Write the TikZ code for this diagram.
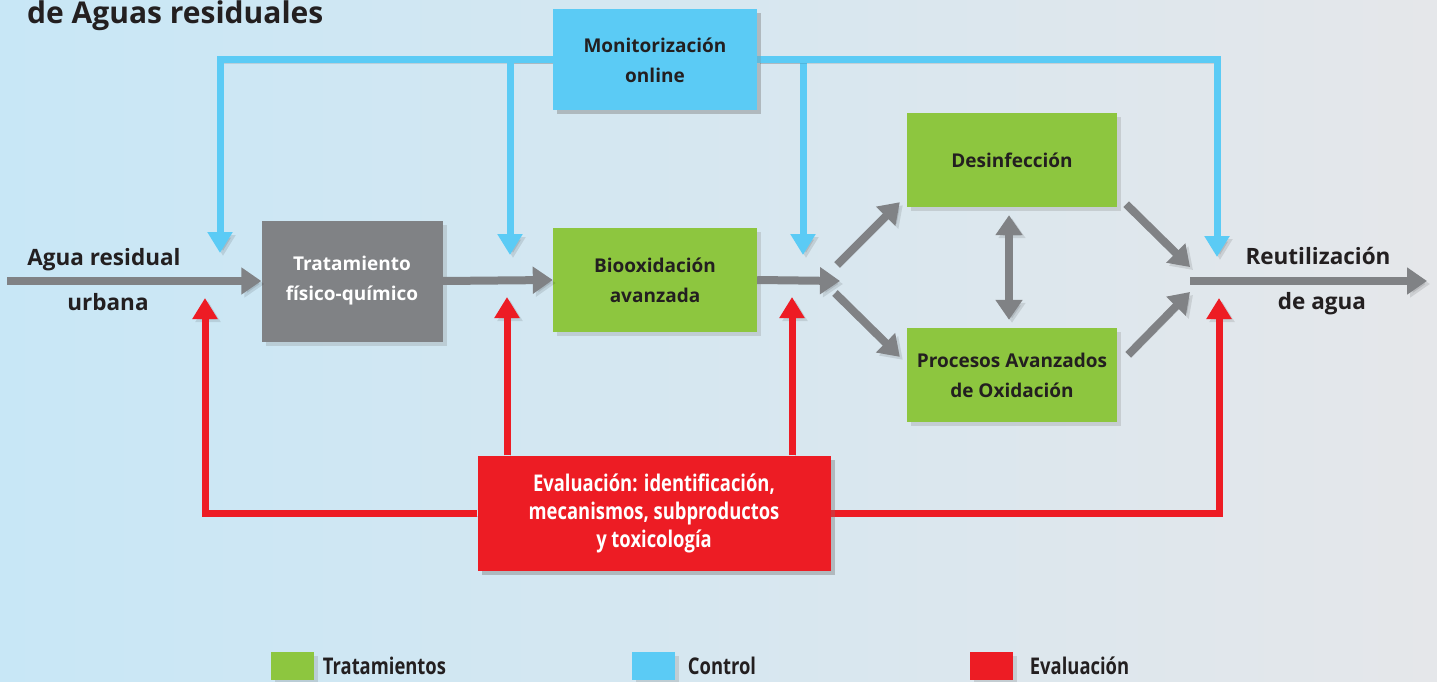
\documentclass[tikz,border=0pt]{standalone}
\usepackage{fontspec}
\setmainfont{Open Sans}
\newfontfamily\condfont[FakeStretch=0.8]{Open Sans}
\usetikzlibrary{arrows.meta,shadows,positioning}
\definecolor{verde}{HTML}{8DC63F}
\definecolor{celeste}{HTML}{5BCBF5}
\definecolor{rojo}{HTML}{ED1C24}
\definecolor{gris}{HTML}{808285}
\definecolor{tinta}{HTML}{231F20}
\definecolor{fondoizq}{HTML}{C8E7F6}
\definecolor{fondoder}{HTML}{E5E7EA}
\begin{document}
\begin{tikzpicture}[x=1pt,y=-1pt]
          \tikzstyle{sombra}=[preaction={draw=black,opacity=.1,transform canvas={xshift=3pt,yshift=-3pt}}]
          \tikzstyle{caja}=[rectangle,inner sep=0pt,align=center,font=\bfseries\fontsize{19}{30}\selectfont,drop shadow={shadow xshift=4pt,shadow yshift=-4pt,opacity=.25}]
          \tikzstyle{tratamiento}=[caja,fill=verde,text=tinta]
          \tikzstyle{fisico}=[caja,fill=gris,text=white]
          \tikzstyle{control}=[caja,fill=celeste,text=tinta]
          \tikzstyle{evaluacion}=[caja,fill=rojo,text=white,font=\condfont\bfseries\fontsize{23}{28}\selectfont]
          \tikzstyle{flujo}=[draw=gris,line width=8pt,-{Triangle[length=20pt,width=26pt]},sombra]
          \tikzstyle{senal}=[draw=celeste,line width=7pt,-{Triangle[length=21pt,width=24pt]},sombra]
          \tikzstyle{retro}=[draw=rojo,line width=7pt,-{Triangle[length=21pt,width=24pt]},sombra]
          \tikzstyle{etiqueta}=[font=\bfseries\fontsize{22.5}{22.5}\selectfont,text=tinta,anchor=base]
          \tikzstyle{leyenda}=[font=\condfont\bfseries\fontsize{23}{23}\selectfont,text=tinta,inner sep=0pt]
          \useasboundingbox (0,0) rectangle (1437,682);
          \shade[left color=fondoizq,right color=fondoder] (0,0) rectangle (1437,682);
          \node[font=\bfseries\fontsize{30}{30}\selectfont,text=tinta,anchor=base west,inner sep=0pt] (titulo) at (27,24) {de Aguas residuales};
          \begin{scope}
             % cajas
             \node [fisico,minimum width=181,minimum height=121] (tfq) at (352,281) {Tratamiento\\físico-químico};
             \node [tratamiento,minimum width=204,minimum height=104] (bio) at (655,280) {Biooxidación\\avanzada};
             \node [control,minimum width=204,minimum height=101] (monitor) at (655,60) {Monitorización\\online};
             \node [tratamiento,minimum width=210,minimum height=94] (desinf) at (1012,160) {Desinfección};
             \node [tratamiento,minimum width=210,minimum height=94] (poa) at (1012,375) {Procesos Avanzados\\de Oxidación};
             \node [evaluacion,minimum width=353,minimum height=115] (evalua) at (654,513) {Evaluación: identificación,\\mecanismos, subproductos\\y toxicología};
             % puntos libres
             \coordinate (entrada) at (7,281);
             \coordinate (reparto) at (840,281);
             \coordinate (s1) at (837,265);
             \coordinate (s2) at (835,293);
             \coordinate (d1) at ([shift={(-7,-5)}]desinf.south west);
             \coordinate (p1) at ([shift={(-7,29)}]poa.north west);
             \coordinate (d2) at ([shift={(9,-3)}]desinf.south east);
             \coordinate (p2) at ([shift={(11,27)}]poa.north east);
             \coordinate (m1) at (1190,267);
             \coordinate (m2) at (1190,292);
             \coordinate (union) at (1190,281);
             \coordinate (salida) at (1427,281);
             \coordinate (ctlA) at (220,253);
             \coordinate (ctlB) at (510,255);
             \coordinate (ctlC) at (803,255);
             \coordinate (ctlD) at (1217,257);
             \coordinate (evA) at (205,298);
             \coordinate (evB) at (507,297);
             \coordinate (evC) at (792,297);
             \coordinate (evD) at (1219,298);
             % flujo principal
             \path[flujo] (entrada) -- (tfq.west);
             \path[flujo] (tfq.east) -- (bio.west);
             \path[flujo] (bio.east) -- (reparto);
             \path[flujo] (s1) -- (d1);
             \path[flujo] (s2) -- (p1);
             \path[flujo] (d2) -- (m1);
             \path[flujo] (p2) -- (m2);
             \path[flujo] (union) -- (salida);
             \path[flujo,{Triangle[length=20pt,width=26pt]}-{Triangle[length=20pt,width=26pt]},shorten <=8pt,shorten >=8pt] ([xshift=-3pt]desinf.south) -- ([xshift=-3pt]poa.north);
             % control
             \path[senal] (monitor.west) -| (ctlA);
             \path[senal] (monitor.west) -| (ctlB);
             \path[senal] (monitor.east) -| (ctlC);
             \path[senal] (monitor.east) -| (ctlD);
             % evaluacion
             \path[retro] (evalua.west) -| (evA);
             \path[retro] (evalua.north -| evB) -- (evB);
             \path[retro] (evalua.north -| evC) -- (evC);
             \path[retro] (evalua.east) -| (evD);
             % cajas encima de las lineas
             \node [control,minimum width=204,minimum height=101] at (monitor) {Monitorización\\online};
             \node [evaluacion,minimum width=353,minimum height=115] at (evalua) {Evaluación: identificación,\\mecanismos, subproductos\\y toxicología};
             % textos
             \node [etiqueta] (agua) at (104,265) {Agua residual};
             \node [etiqueta] (urbana) at (108,310) {urbana};
             \node [etiqueta] (reuso) at (1318,264) {Reutilización};
             \node [etiqueta] (deagua) at (1322,309) {de agua};
          \end{scope}
          % leyenda
          \node [tratamiento,minimum width=43,minimum height=28] (legTrat) at (292,666) {};
          \node [leyenda,right=9pt of legTrat] (txtTrat) {Tratamientos};
          \node [control,minimum width=43,minimum height=28] (legCtl) at (653,666) {};
          \node [leyenda,right=13pt of legCtl] (txtCtl) {Control};
          \node [evaluacion,minimum width=43,minimum height=28] (legEva) at (991,666) {};
          \node [leyenda,right=17pt of legEva] (txtEva) {Evaluación};
        \end{tikzpicture}
\end{document}
